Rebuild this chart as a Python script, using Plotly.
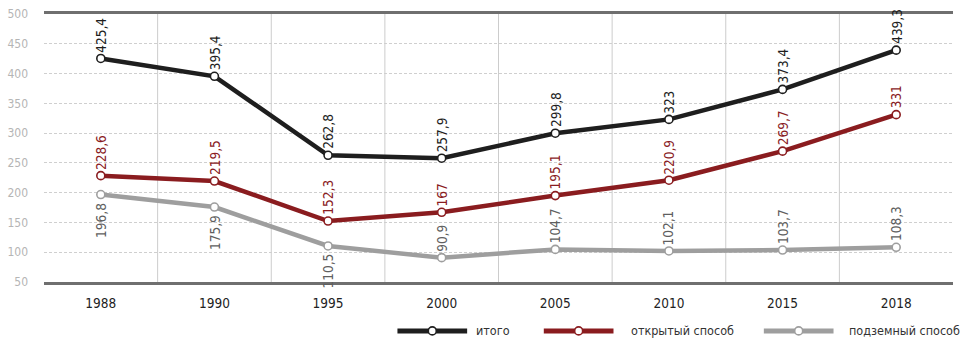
import plotly.graph_objects as go

# Production by year, million tonnes
years = ["1988", "1990", "1995", "2000", "2005", "2010", "2015", "2018"]
total = [425.4, 395.4, 262.8, 257.9, 299.8, 323, 373.4, 439.3]
open_pit = [228.6, 219.5, 152.3, 167, 195.1, 220.9, 269.7, 331]
underground = [196.8, 175.9, 110.5, 90.9, 104.7, 102.1, 103.7, 108.3]
series_names = ["итого", "открытый способ", "подземный способ"]
y_ticks = [50, 100, 150, 200, 250, 300, 350, 400, 450, 500]

# where each value label sits relative to its point
label_sides = [
    ["above"] * 8,
    ["above"] * 8,
    ["below", "below", "below", "above", "above", "above", "above", "above"],
]

FONT = "DejaVu Sans Condensed, DejaVu Sans, sans-serif"
line_colors = ["#1e1e1e", "#8a1c1f", "#9e9e9e"]
label_colors = ["#1e1e1e", "#8a1c1f", "#5f5f5f"]

W, H = 960, 341
M = dict(l=40, r=7, t=8, b=59)
plot_w = W - M["l"] - M["r"]
plot_h = H - M["t"] - M["b"]


def fmt(v):
    return f"{v:g}".replace(".", ",")


fig = go.Figure()
all_series = [total, open_pit, underground]
for name, vals, color in zip(series_names, all_series, line_colors):
    fig.add_trace(go.Scatter(
        x=years, y=vals, name=name, mode="lines+markers",
        line=dict(color=color, width=4.5),
        marker=dict(size=8, color="white", line=dict(color=color, width=1.6)),
        showlegend=False, hoverinfo="skip",
    ))

annotations = []
for vals, color, sides in zip(all_series, label_colors, label_sides):
    # category positions are given by index (numeric-looking names would be
    # read as indices otherwise)
    for idx, (v, side) in enumerate(zip(vals, sides)):
        above = side == "above"
        annotations.append(dict(
            x=idx, y=v, xref="x", yref="y", text=fmt(v), showarrow=False,
            textangle=-90, xanchor="center",
            yanchor="bottom" if above else "top",
            yshift=4 if above else -6, xshift=0,
            font=dict(family=FONT, size=13.5, color=color),
        ))

# separators between the year columns (not at the outer edges)
shapes = []
for idx in range(len(years) - 1):
    shapes.append(dict(type="line", xref="x", yref="paper",
                       x0=idx + 0.5, x1=idx + 0.5, y0=0, y1=1, layer="below",
                       line=dict(color="#cccccc", width=1)))

# legend drawn below the plot: (line start, line end, text start) in px
legend_px = [(395, 465, 472), (542, 612, 628), (763, 833, 847)]
legend_y_px = 332


def px_x(px):
    return (px - M["l"]) / plot_w


def px_y(py):
    return (H - M["b"] - py) / plot_h


ly = px_y(legend_y_px)
for (x0, x1, tx), name, color in zip(legend_px, series_names, line_colors):
    shapes.append(dict(type="line", xref="paper", yref="paper",
                       x0=px_x(x0), x1=px_x(x1), y0=ly, y1=ly,
                       line=dict(color=color, width=5)))
    shapes.append(dict(type="circle", xref="paper", yref="paper",
                       xsizemode="pixel", ysizemode="pixel",
                       xanchor=px_x((x0 + x1) / 2), yanchor=ly,
                       x0=-4, x1=4, y0=-4, y1=4,
                       fillcolor="white", line=dict(color=color, width=1.6)))
    annotations.append(dict(x=px_x(tx), y=ly, xref="paper", yref="paper",
                            text=name, showarrow=False, xanchor="left",
                            yanchor="middle",
                            font=dict(family=FONT, size=12.5, color="#333333")))

fig.update_layout(
    width=W, height=H, margin=M,
    paper_bgcolor="white", plot_bgcolor="white",
    font=dict(family=FONT),
    showlegend=False,
    annotations=annotations, shapes=shapes,
    xaxis=dict(
        type="category", range=[-0.5, 7.5],
        showgrid=False, ticks="",
        showline=True, mirror=True, linecolor="#6f6f6f", linewidth=3,
        tickfont=dict(family=FONT, size=13.5, color="#222222"),
        ticklabelstandoff=7, zeroline=False, fixedrange=True,
    ),
    yaxis=dict(
        range=[50, 500], tickmode="array", tickvals=y_ticks,
        showgrid=True, gridcolor="#cfcfcf", gridwidth=1, griddash="3px,2px",
        zeroline=False, showline=False, ticks="",
        tickfont=dict(family=FONT, size=12, color="#b5b5b5"),
        ticklabelstandoff=15, fixedrange=True,
    ),
)

fig.write_html("out.html", config={"displayModeBar": False})
